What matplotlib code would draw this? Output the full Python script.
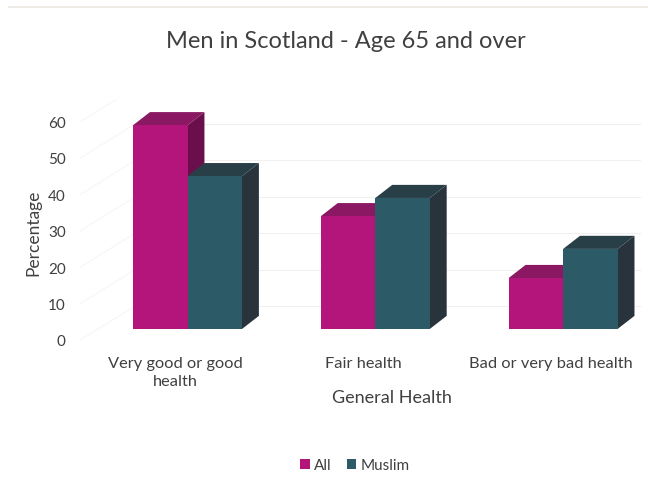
import numpy as np
import matplotlib
matplotlib.use("Agg")
import matplotlib.pyplot as plt
from matplotlib.patches import Polygon, Patch
from matplotlib.lines import Line2D

plt.rcParams['font.family'] = ['Lato', 'DejaVu Sans']

# data
categories = ["Very good or good\nhealth", "Fair health", "Bad or very bad health"]
all_vals = [56, 31, 14]
muslim_vals = [42, 36, 22]
yticks = [0, 10, 20, 30, 40, 50, 60]

# colours: front / top / side
pink = ("#B3157A", "#8A1862", "#6A0F4B")
teal = ("#2C5A66", "#293F48", "#28333C")
text_col = "#404040"
grid_col = "#f0f0f0"

# fake 3D geometry (category units / percent units)
bar_w = 0.29
depth_x = 0.09
depth_y = 3.6
label_shift = -3.0    # front edge of the floor sits below the bar bases
wall_shift = 6.3      # back wall sits above the bar bases
x_front = -0.57
x_wall = -0.28
x_end = 2.41

fig = plt.figure(figsize=(6.48, 4.81), dpi=100)
ax = fig.add_axes([0.108, 0.2724, 0.892, 0.5197])
ax.set_xlim(-0.626, 2.452)
ax.set_ylim(-5.5, 63.2)
for s in ax.spines.values():
    s.set_visible(False)

# gridlines: side wall diagonals + back wall horizontals
for t in yticks:
    ax.plot([x_front, x_wall], [t + label_shift, t + wall_shift],
            color="#f6f6f6", lw=0.8, zorder=0)
    ax.plot([x_wall, x_end], [t + wall_shift, t + wall_shift],
            color=grid_col, lw=0.8, zorder=0)

x = np.arange(len(categories))
z = 2
for i in x:
    for off, val, cols in [(-bar_w / 2, all_vals[i], pink),
                           (bar_w / 2, muslim_vals[i], teal)]:
        x0 = i + off - bar_w / 2
        x1 = i + off + bar_w / 2
        side = Polygon([(x1, 0), (x1 + depth_x, depth_y),
                        (x1 + depth_x, val + depth_y), (x1, val)],
                       closed=True, facecolor=cols[2], edgecolor='none', zorder=z)
        top = Polygon([(x0, val), (x0 + depth_x, val + depth_y),
                       (x1 + depth_x, val + depth_y), (x1, val)],
                      closed=True, facecolor=cols[1], edgecolor='none', zorder=z)
        ax.add_patch(side)
        ax.add_patch(top)
        ax.bar(i + off, val, width=bar_w, color=cols[0], edgecolor='none', zorder=z + 1)
        z += 2

ax.set_yticks([t + label_shift for t in yticks])
ax.set_yticklabels([str(t) for t in yticks])
ax.set_xticks(x - 0.065)
ax.set_xticklabels(categories, linespacing=1.4)
ax.tick_params(axis='y', length=0, labelsize=11, labelcolor=text_col, pad=3)
ax.tick_params(axis='x', length=0, labelsize=11.8, labelcolor=text_col, pad=5)

fig.text(0.533, 0.913, "Men in Scotland - Age 65 and over", ha='center', va='center',
         fontsize=17, color=text_col)
fig.text(0.605, 0.172, "General Health", ha='center', va='center',
         fontsize=13, color=text_col)
fig.text(0.051, 0.516, "Percentage", ha='center', va='center', rotation=90,
         fontsize=12.5, color=text_col)

fig.add_artist(Line2D([0.014, 1.0], [0.983, 0.983], color="#ebe7e3", lw=1.2))

handles = [Patch(facecolor=pink[0], label="All"), Patch(facecolor=teal[0], label="Muslim")]
leg = fig.legend(handles=handles, loc='center', bbox_to_anchor=(0.548, 0.031), ncol=2,
                 frameon=False, fontsize=11, handlelength=0.6, handleheight=0.6,
                 handletextpad=0.3, columnspacing=1.0)
for txt in leg.get_texts():
    txt.set_color(text_col)

fig.savefig("out.png", dpi=100)
